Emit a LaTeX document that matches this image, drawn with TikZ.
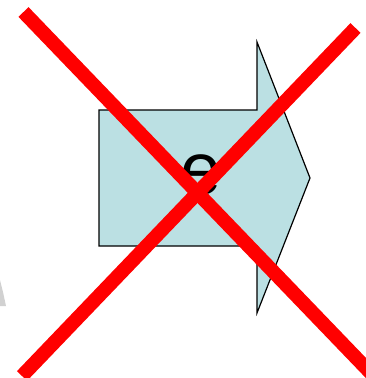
\documentclass[tikz,border=0pt]{standalone}
\usepackage{fontspec}
\setmainfont{Liberation Sans}
\begin{document}
\begin{tikzpicture}[x=1pt,y=-1pt,
  arrowshape/.style={draw=black,line width=1.2pt,fill={rgb,255:red,187;green,224;blue,227},line join=miter},
  crossline/.style={draw={rgb,255:red,255;green,0;blue,0},line width=14pt,line cap=butt},
  faint/.style={fill=black!40,draw=none,opacity=0.45}]
\useasboundingbox (0,0) rectangle (366,378);
\clip (0,0) rectangle (366,378);
% faint remnant at left edge
\fill[faint] (0,280) -- (3,292) -- (6,306) -- (0,306) -- cycle;
% arrow
\draw[arrowshape] (99,110) -- (257,110) -- (257,42) -- (310,178) -- (257,313) -- (257,246) -- (99,246) -- cycle;
\node (lbl) at (201,175) {\fontsize{74}{74}\selectfont e};
% red cross
\coordinate (a1) at (23.5,12);
\coordinate (a2) at (390,393);
\coordinate (b1) at (355.5,28);
\coordinate (b2) at (22,376);
\draw[crossline] (a1) -- (a2);
\draw[crossline] (b1) -- (b2);
\end{tikzpicture}
\end{document}
